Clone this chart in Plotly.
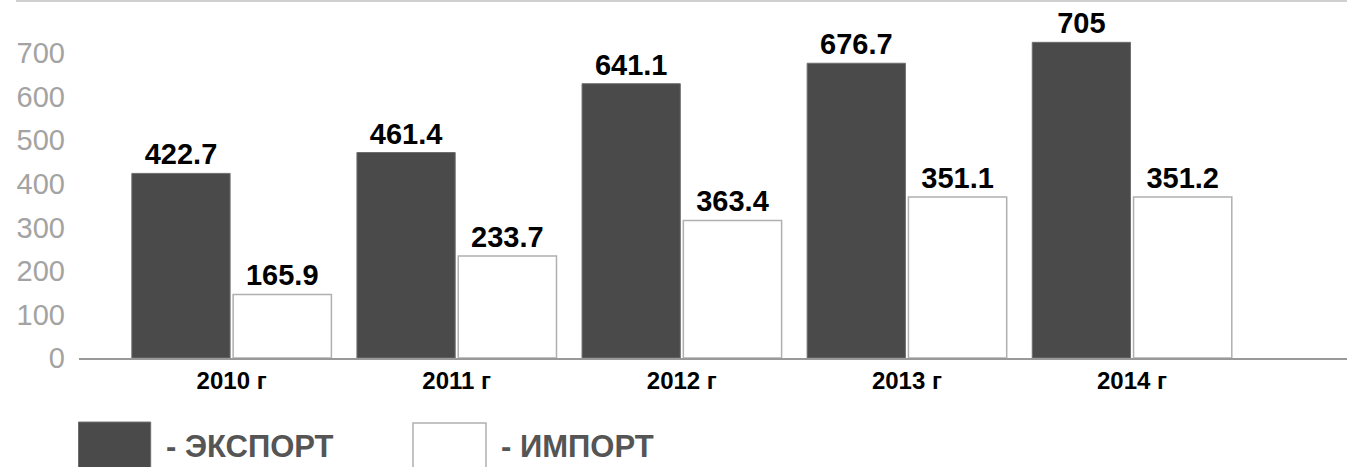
import plotly.graph_objects as go

# ---- data ----
years = ["2010 г", "2011 г", "2012 г", "2013 г", "2014 г"]
export_heights = [424, 472, 630, 677, 725]      # bar heights as drawn
import_heights = [146, 234.5, 316, 370, 370]    # bar heights as drawn
export_labels = ["422.7", "461.4", "641.1", "676.7", "705"]
import_labels = ["165.9", "233.7", "363.4", "351.1", "351.2"]
y_ticks = [0, 100, 200, 300, 400, 500, 600, 700]
legend_names = ["- ЭКСПОРТ", "- ИМПОРТ"]

W, H = 1347, 467
ML, MR, MT, MB = 79, 0, 20, 109.3
PW, PH = W - ML - MR, H - MT - MB

def px(x):
    return (x - ML) / PW

def py(y):
    return (H - MB - y) / PH

FONT = "Liberation Sans, Arial, sans-serif"

fig = go.Figure()
fig.add_trace(go.Bar(
    x=list(range(len(years))), y=export_heights, name=legend_names[0],
    text=export_labels, textposition="outside", cliponaxis=False,
    textfont=dict(family=FONT, size=29, color="#000000", weight="bold"),
    marker=dict(color="#4a4a4a", line=dict(color="#6e6e6e", width=1)),
))
fig.add_trace(go.Bar(
    x=list(range(len(years))), y=import_heights, name=legend_names[1],
    text=import_labels, textposition="outside", cliponaxis=False,
    textfont=dict(family=FONT, size=29, color="#000000", weight="bold"),
    marker=dict(color="#ffffff", line=dict(color="#b0b0b0", width=1.5)),
))

x_left = -0.678
x_right = 4.955
y_top = PH / 0.435

shapes = [
    dict(type="line", xref="paper", yref="paper", x0=px(16), x1=1.0, y0=py(1), y1=py(1),
         line=dict(color="#d0d0d0", width=2)),
    dict(type="rect", xref="paper", yref="paper", x0=px(78.5), x1=px(150.7), y0=py(421.7), y1=py(475),
         fillcolor="#4a4a4a", line=dict(color="#6e6e6e", width=1)),
    dict(type="rect", xref="paper", yref="paper", x0=px(413), x1=px(486), y0=py(422.7), y1=py(475),
         fillcolor="#ffffff", line=dict(color="#b0b0b0", width=1.5)),
]
annotations = [
    dict(xref="paper", yref="paper", x=px(164), y=py(446), text=legend_names[0], showarrow=False,
         xanchor="left", yanchor="middle", font=dict(family=FONT, size=31, color="#555555", weight="bold")),
    dict(xref="paper", yref="paper", x=px(499), y=py(446), text=legend_names[1], showarrow=False,
         xanchor="left", yanchor="middle", font=dict(family=FONT, size=31, color="#555555", weight="bold")),
]

fig.update_layout(
    width=W, height=H,
    margin=dict(l=ML, r=MR, t=MT, b=MB, pad=0),
    plot_bgcolor="#ffffff", paper_bgcolor="#ffffff",
    barmode="group", bargap=0.1, bargroupgap=0.03,
    showlegend=False,
    shapes=shapes, annotations=annotations,
    xaxis=dict(
        range=[x_left, x_right], tickmode="array", tickvals=list(range(len(years))), ticktext=years,
        showgrid=False, zeroline=False, showline=True, linecolor="#999999", linewidth=2,
        ticks="", ticklabelstandoff=0,
        tickfont=dict(family=FONT, size=24, color="#000000", weight="bold"),
    ),
    yaxis=dict(
        range=[0, y_top], tickmode="array", tickvals=y_ticks,
        showgrid=False, zeroline=False, showline=False, ticks="", ticklabelstandoff=13,
        tickfont=dict(family=FONT, size=29, color="#a3a3a3"),
    ),
)

fig.write_html("out.html", config={"displayModeBar": False},
               post_script="document.body.style.margin='0';document.body.style.padding='0';document.body.style.overflow='hidden';")
